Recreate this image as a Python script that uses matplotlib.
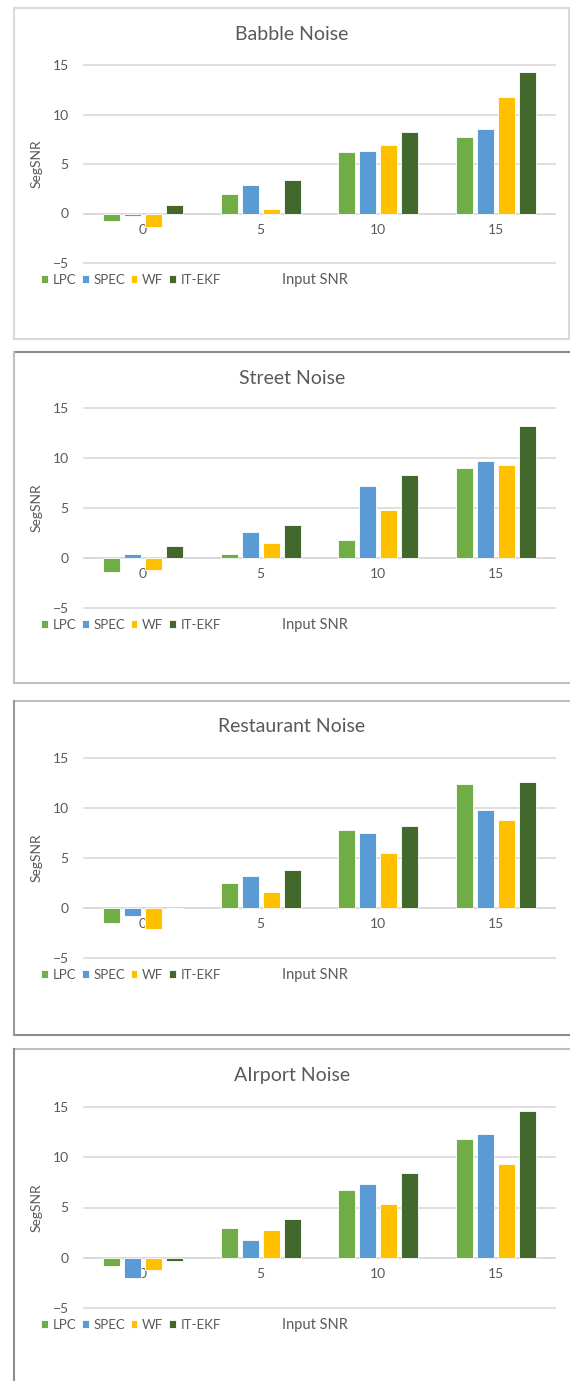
import matplotlib.pyplot as plt
from matplotlib.lines import Line2D

# input SNR levels (dB) and the enhancement methods compared
input_snr = ['0', '5', '10', '15']
methods = ['LPC', 'SPEC', 'WF', 'IT-EKF']
colors = ['#70AD47', '#5B9BD5', '#FFC000', '#43682B']

# SegSNR per method, one list per method across the input SNR levels
babble_lpc = [-0.74, 1.98, 6.26, 7.70]
babble_spec = [-0.30, 2.86, 6.36, 8.58]
babble_wf = [-1.41, 0.44, 6.93, 11.77]
babble_itekf = [0.87, 3.40, 8.27, 14.30]

street_lpc = [-1.38, 0.44, 1.85, 8.96]
street_spec = [0.44, 2.65, 7.25, 9.73]
street_wf = [-1.21, 1.54, 4.77, 9.26]
street_itekf = [1.17, 3.26, 8.29, 13.22]

restaurant_lpc = [-1.49, 2.46, 7.83, 12.41]
restaurant_spec = [-0.83, 3.25, 7.53, 9.82]
restaurant_wf = [-2.12, 1.56, 5.54, 8.76]
restaurant_itekf = [0.0, 3.85, 8.20, 12.61]

airport_lpc = [-0.82, 3.00, 6.73, 11.80]
airport_spec = [-2.04, 1.75, 7.29, 12.27]
airport_wf = [-1.19, 2.80, 5.37, 9.30]
airport_itekf = [-0.33, 3.89, 8.44, 14.57]

titles = ['Babble Noise', 'Street Noise', 'Restaurant Noise', 'AIrport Noise']
series = [
    [babble_lpc, babble_spec, babble_wf, babble_itekf],
    [street_lpc, street_spec, street_wf, street_itekf],
    [restaurant_lpc, restaurant_spec, restaurant_wf, restaurant_itekf],
    [airport_lpc, airport_spec, airport_wf, airport_itekf],
]

W, H = 570, 1381
plt.rcParams['font.family'] = ['Lato', 'DejaVu Sans']
text_color = '#595959'
grid_color = '#D9D9D9'

fig = plt.figure(figsize=(W / 100, H / 100), dpi=100)


def px_line(x0, y0, x1, y1, color, lw=1.5):
    """draw a straight line given in pixel coordinates (y from the top)"""
    fig.add_artist(Line2D([x0 / W, x1 / W], [1 - y0 / H, 1 - y1 / H],
                          transform=fig.transFigure, color=color, lw=lw))


# chart frames
px_line(13.5, 8, 569, 8, '#D9D9D9')
px_line(13.5, 338.5, 569, 338.5, '#D9D9D9')
px_line(13.5, 8, 13.5, 338.5, '#D9D9D9')
px_line(569, 8, 569, 338.5, '#D9D9D9')

px_line(14, 352, 570, 352, '#8C8C8C')
px_line(14, 683, 570, 683, '#C0C0C0')
px_line(14, 352, 14, 683, '#C0C0C0')

px_line(13.5, 701, 570, 701, '#BFBFBF')
px_line(13.5, 1035, 570, 1035, '#8C8C8C')
px_line(13.5, 701, 13.5, 1035, '#9A9A9A')

px_line(13.5, 1049, 570, 1049, '#C0C0C0')
px_line(13.5, 1049, 13.5, 1381, '#8C8C8C')

# plot area of each chart: (top of 15 gridline, bottom of -5 gridline) in pixels
plot_tops = [65, 408, 758, 1107]
plot_bottoms = [263, 608, 958, 1308]
title_y = [34, 378, 727, 1075]
left_px, right_px = 84, 555

step = 0.178
width = 0.145
xs = range(len(input_snr))

for k in range(4):
    top, bot = plot_tops[k], plot_bottoms[k]
    ax = fig.add_axes([left_px / W, 1 - bot / H, (right_px - left_px) / W, (bot - top) / H])
    for i, (name, vals) in enumerate(zip(methods, series[k])):
        pos = [x + (i - 1.5) * step for x in xs]
        ax.bar(pos, vals, width=width, color=colors[i], edgecolor='white',
               linewidth=0.6, label=name, zorder=3)

    ax.set_xlim(-0.5, 3.5)
    ax.set_ylim(-5, 15)
    ax.set_yticks([-5, 0, 5, 10, 15])
    ax.set_xticks(list(xs))
    ax.set_xticklabels(input_snr)
    ax.grid(axis='y', color=grid_color, lw=1.2, zorder=0)
    for line in ax.get_ygridlines():
        line.set_clip_on(False)
    for side in ['top', 'right', 'left']:
        ax.spines[side].set_visible(False)
    ax.spines['bottom'].set_position(('data', 0))
    ax.spines['bottom'].set_color(grid_color)
    ax.spines['bottom'].set_linewidth(1.2)
    ax.spines['bottom'].set_zorder(1)
    ax.tick_params(axis='both', length=0, labelsize=10, labelcolor=text_color)
    ax.tick_params(axis='x', pad=7.5)
    ax.tick_params(axis='y', pad=11)

    ax.set_ylabel('SegSNR', fontsize=10, color=text_color)
    ax.yaxis.set_label_coords(-0.087, 0.5)
    ax.set_xlabel('Input SNR', fontsize=10.5, color=text_color)
    ax.xaxis.set_label_coords(0.49, -0.05)

    fig.text(0.512, 1 - title_y[k] / H, titles[k], ha='center', va='center',
             fontsize=14, color=text_color)

    ax.legend(loc='upper left', bbox_to_anchor=(-0.091, -0.054), ncol=4,
              frameon=False, fontsize=9.5, labelcolor=text_color,
              handlelength=0.5, handleheight=0.5, handletextpad=0.35,
              columnspacing=0.45, borderaxespad=0, borderpad=0)

fig.savefig('out.png', dpi=100, facecolor='white')
